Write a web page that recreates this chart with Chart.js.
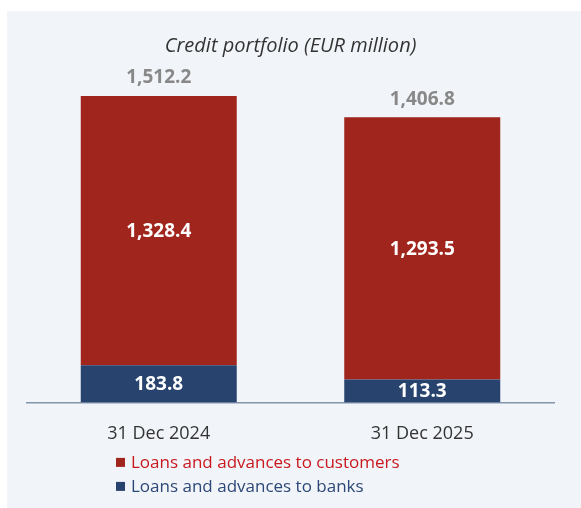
<!DOCTYPE html>
<html>
<head>
<meta charset="utf-8">
<script src="https://cdn.jsdelivr.net/npm/chart.js@4.4.1/dist/chart.umd.min.js"></script>
<style>
  html, body { margin: 0; padding: 0; background: #ffffff; }
  #wrap { width: 581px; height: 508px; }
</style>
</head>
<body>
<div id="wrap"><canvas id="myChart" width="581" height="508"></canvas></div>
<script>
var categories = ["31 Dec 2024", "31 Dec 2025"];
var customers = [1328.4, 1293.5];
var banks = [183.8, 113.3];
var totals = [1512.2, 1406.8];
var seriesNames = ["Loans and advances to customers", "Loans and advances to banks"];

var red = '#a0251d';
var blue = '#27436e';
var font = "'Open Sans', 'Noto Sans', sans-serif";

function fmt(v) {
    return v.toLocaleString('en-US', { minimumFractionDigits: 1, maximumFractionDigits: 1 });
}

// panel background
var panelPlugin = {
    id: 'panel',
    beforeDraw: function (chart) {
        var c = chart.ctx;
        c.save();
        c.fillStyle = '#f1f4f8';
        c.fillRect(7, 11, chart.width - 7, chart.height - 11);
        c.restore();
    }
};

// values inside the bars + totals on top + legend
var labelPlugin = {
    id: 'labels',
    afterDraw: function (chart) {
        var c = chart.ctx;
        c.save();
        c.textAlign = 'center';
        c.textBaseline = 'middle';
        c.font = 'bold 19px ' + font;
        chart.data.datasets.forEach(function (ds, di) {
            var meta = chart.getDatasetMeta(di);
            meta.data.forEach(function (bar, i) {
                c.fillStyle = '#ffffff';
                c.fillText(fmt(ds.data[i]), bar.x, (bar.y + bar.base) / 2 + 1);
            });
        });
        var top = chart.getDatasetMeta(1);
        c.fillStyle = '#888888';
        top.data.forEach(function (bar, i) {
            c.fillText(fmt(totals[i]), bar.x, bar.y - 18);
        });

        // legend
        var colors = [red, blue];
        var textColors = ['#c8191f', '#2c4877'];
        c.textAlign = 'left';
        c.font = '17px ' + font;
        var y0 = chart.chartArea.bottom + 60;
        seriesNames.forEach(function (name, i) {
            var y = y0 + i * 24;
            c.fillStyle = colors[i];
            c.fillRect(116, y - 4.5, 9, 9);
            c.fillStyle = textColors[i];
            c.fillText(name, 131, y + 1);
        });
        c.restore();
    }
};

var ctx = document.getElementById("myChart").getContext('2d');
var myChart = new Chart(ctx, {
    type: 'bar',
    data: {
        labels: categories,
        datasets: [{
            label: seriesNames[1],
            data: banks,
            backgroundColor: blue,
            categoryPercentage: 1,
            barPercentage: 0.592
        }, {
            label: seriesNames[0],
            data: customers,
            backgroundColor: red,
            categoryPercentage: 1,
            barPercentage: 0.592
        }]
    },
    options: {
        responsive: false,
        animation: false,
        layout: {
            padding: { left: 27, right: 27, top: 0, bottom: 50 }
        },
        plugins: {
            legend: { display: false },
            tooltip: { enabled: false },
            title: {
                display: true,
                text: 'Credit portfolio (EUR million)',
                color: '#333333',
                font: { family: font, size: 20, style: 'italic', weight: 'normal' },
                padding: { top: 34, bottom: 20.2 }
            }
        },
        scales: {
            x: {
                stacked: true,
                grid: { display: false },
                border: { display: true, color: '#8394ad', width: 1.5 },
                ticks: {
                    color: '#333333',
                    padding: 13,
                    font: { family: font, size: 18 }
                }
            },
            y: {
                stacked: true,
                display: false,
                min: 0,
                max: 1600
            }
        }
    },
    plugins: [panelPlugin, labelPlugin]
});
</script>
</body>
</html>
